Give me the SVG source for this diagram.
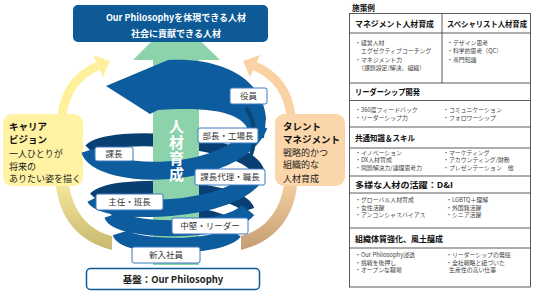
<svg xmlns="http://www.w3.org/2000/svg" width="533" height="291" viewBox="0 0 533 291">
<defs>
<linearGradient id="olive" x1="0" y1="0" x2="0" y2="1"><stop offset="0" stop-color="#F2E59A"/><stop offset="1" stop-color="#C9B86F"/></linearGradient>
<linearGradient id="tan" x1="0" y1="0" x2="0" y2="1"><stop offset="0" stop-color="#F3CC9E"/><stop offset="1" stop-color="#C49D72"/></linearGradient>
<style>
text{font-family:"Noto Sans CJK JP","Noto Sans",sans-serif;}
.lbl rect{fill:#fff;stroke:#3A78BE;stroke-width:1;}
.lbl text{font-size:8.5px;fill:#333;text-anchor:middle;}
.back{fill:none;stroke:#0A3F73;stroke-width:13;}
.front{fill:none;stroke:#0D5C9E;}
.side{font-size:9px;fill:#222;}
.sideb{font-size:9.5px;font-weight:bold;fill:#111;}
.th{font-size:8px;font-weight:bold;fill:#111;}
.td{font-size:5.9px;fill:#444;}
.tl{stroke:#333;stroke-width:0.8;fill:none;}
</style>
</defs>

<g id="career">
<path d="M62 116 Q66 80 98 66" fill="none" stroke="#FFF19C" stroke-width="9"/>
<polygon points="110,61 93,55 103,77" fill="#FFF19C"/>
<path d="M56 186 C60 220 80 242 112 250 L112 236 C88 230 74 212 69 186 Z" fill="url(#olive)"/>
<rect x="3" y="114" width="80" height="72" rx="9" fill="#FFF2A2"/>
<text class="sideb" x="9" y="129.5">キャリア</text>
<text class="sideb" x="9" y="142.5">ビジョン</text>
<text class="side" x="9" y="156.5">一人ひとりが</text>
<text class="side" x="9" y="169.5">将来の</text>
<text class="side" x="9" y="181.5">ありたい姿を描く</text>
</g>

<g id="talent">
<path d="M291 116 Q287 80 255 66" fill="none" stroke="#F9D1A2" stroke-width="9"/>
<polygon points="243,61 260,55 250,77" fill="#F9D1A2"/>
<path d="M297 186 C293 220 273 242 241 250 L241 236 C265 230 279 212 284 186 Z" fill="url(#tan)"/>
<rect x="275" y="114" width="70" height="72" rx="9" fill="#FBD6AA"/>
<text class="sideb" x="283" y="129.5">タレント</text>
<text class="sideb" x="283" y="142.5">マネジメント</text>
<text class="side" x="283" y="155.5">戦略的かつ</text>
<text class="side" x="283" y="168">組織的な</text>
<text class="side" x="283" y="181.5">人材育成</text>
</g>

<g id="spiral">
<path class="back" d="M258 172 C250 140 110 130 90 150"/>
<path class="back" d="M248 210 C240 185 110 180 95 198"/>
<path class="back" d="M235 232 C230 210 120 205 112 215"/>
<polygon id="green-arrow" points="133,60 176,17 220,60 199,60 199,265 153,265 153,60" fill="#8CD3AC"/>
<path class="front" stroke-width="15" d="M120 233 C125 249 220 250 235 232"/>
<path class="front" stroke-width="16" d="M112 215 C118 232 228 235 248 210"/>
<path class="front" stroke-width="17" d="M95 198 C103 214 235 216 258 172"/>
<path class="front" stroke-width="18" d="M90 150 C100 180 235 182 259 125"/>
<path d="M106 86 L168 60 C215 57 262 74 266 118 L264 138 L250 138 C249 113 215 106 158 110 L150 114 Z" fill="#0D5C9E"/>
<path d="M246 108 C255 120 257 140 250 158" fill="none" stroke="#0A4577" stroke-width="4"/>
<text x="176.5" y="119" writing-mode="vertical-rl" letter-spacing="1" font-size="15" font-weight="bold" fill="#fff">人材育成</text>
</g>

<g id="top-goal">
<rect x="73" y="5" width="195" height="37" rx="5" fill="#0D5A97"/>
<text x="176" y="21" font-size="9" font-weight="bold" fill="#fff" text-anchor="middle">Our Philosophyを体現できる人材</text>
<text x="176" y="36.5" font-size="9" font-weight="bold" fill="#fff" text-anchor="middle">社会に貢献できる人材</text>
</g>

<g id="levels">
<g class="lbl" id="yakuin"><rect x="230" y="88" width="37" height="16" rx="2"/><text x="248.5" y="99.3">役員</text></g>
<g class="lbl" id="bucho"><rect x="198" y="128" width="60" height="15" rx="2"/><text x="228" y="138.8">部長・工場長</text></g>
<g class="lbl" id="kacho"><rect x="95" y="147" width="38" height="14" rx="2"/><text x="114" y="157.3">課長</text></g>
<g class="lbl" id="kachodairi"><rect x="195" y="169" width="70" height="16" rx="2"/><text x="230" y="180.3">課長代理・職長</text></g>
<g class="lbl" id="shunin"><rect x="96" y="194" width="67" height="16" rx="2"/><text x="129.5" y="205.3">主任・班長</text></g>
<g class="lbl" id="chuken"><rect x="172" y="218" width="76" height="16" rx="2"/><text x="210" y="229.3">中堅・リーダー</text></g>
<g class="lbl" id="shinnyu"><rect x="132" y="247" width="68" height="16" rx="2"/><text x="166" y="258.3">新入社員</text></g>
</g>

<g id="base">
<rect x="86.5" y="268.5" width="173" height="21" rx="4" fill="#fff" stroke="#0D5A97" stroke-width="1.5"/>
<text x="173" y="282.5" font-size="9.5" font-weight="bold" fill="#222" text-anchor="middle">基盤：Our Philosophy</text>
</g>

<g id="table">
<text class="th" x="352" y="11" textLength="23" lengthAdjust="spacingAndGlyphs">施策例</text>
<rect class="tl" x="349.5" y="13.5" width="181" height="273.5"/>
<line class="tl" x1="442" y1="13.5" x2="442" y2="83"/>
<line class="tl" x1="349.5" y1="33" x2="530.5" y2="33"/>
<line class="tl" x1="349.5" y1="83" x2="530.5" y2="83"/>
<line class="tl" x1="349.5" y1="100.5" x2="530.5" y2="100.5"/>
<line class="tl" x1="349.5" y1="127" x2="530.5" y2="127"/>
<line class="tl" x1="349.5" y1="148" x2="530.5" y2="148"/>
<line class="tl" x1="349.5" y1="176" x2="530.5" y2="176"/>
<line class="tl" x1="349.5" y1="193" x2="530.5" y2="193"/>
<line class="tl" x1="349.5" y1="228" x2="530.5" y2="228"/>
<line class="tl" x1="349.5" y1="248" x2="530.5" y2="248"/>

<text class="th" x="355" y="26.5" textLength="79" lengthAdjust="spacingAndGlyphs">マネジメント人材育成</text>
<text class="th" x="447" y="26.5" textLength="80" lengthAdjust="spacingAndGlyphs">スペシャリスト人材育成</text>
<text class="td" x="355" y="44.5">・経営人材</text>
<text class="td" x="361" y="53">エグゼクティブコーチング</text>
<text class="td" x="355" y="61.5">・マネジメント力</text>
<text class="td" x="358" y="70">（課題設定/解決、組織）</text>
<text class="td" x="447" y="44.5">・デザイン思考</text>
<text class="td" x="447" y="53">・科学的思考（QC）</text>
<text class="td" x="447" y="61.5">・専門知識</text>

<text class="th" x="355" y="94.8" textLength="65" lengthAdjust="spacingAndGlyphs">リーダーシップ開発</text>
<text class="td" x="355" y="111.5">・360度フィードバック</text>
<text class="td" x="355" y="120">・リーダーシップ力</text>
<text class="td" x="443" y="111.5">・コミュニケーション</text>
<text class="td" x="443" y="120">・フォロワーシップ</text>

<text class="th" x="355" y="140.8" textLength="60" lengthAdjust="spacingAndGlyphs">共通知識＆スキル</text>
<text class="td" x="355" y="154.5">・イノベーション</text>
<text class="td" x="355" y="162">・DX人材育成</text>
<text class="td" x="355" y="169.5">・問題解決力/論理思考力</text>
<text class="td" x="443" y="154.5">・マーケティング</text>
<text class="td" x="443" y="162">・アカウンティング/財務</text>
<text class="td" x="443" y="169.5">・プレゼンテーション　他</text>

<text class="th" x="355" y="188.3" textLength="98" lengthAdjust="spacingAndGlyphs">多様な人材の活躍：D&amp;I</text>
<text class="td" x="355" y="202">・グローバル人材育成</text>
<text class="td" x="355" y="209.5">・女性活躍</text>
<text class="td" x="355" y="217">・アンコンシャスバイアス</text>
<text class="td" x="446" y="202">・LGBTQ＋理解</text>
<text class="td" x="446" y="209.5">・外国籍活躍</text>
<text class="td" x="446" y="217">・シニア活躍</text>

<text class="th" x="355" y="241.8" textLength="88" lengthAdjust="spacingAndGlyphs">組織体質強化、風土醸成</text>
<text class="td" x="355" y="257">・Our Philosophy浸透</text>
<text class="td" x="355" y="264.5">・挑戦を後押し</text>
<text class="td" x="355" y="272">・オープンな職場</text>
<text class="td" x="446" y="257">・リーダーシップの発揮</text>
<text class="td" x="446" y="264.5">・全社戦略と紐づいた</text>
<text class="td" x="449" y="272">生産性の高い仕事</text>
</g>
</svg>
